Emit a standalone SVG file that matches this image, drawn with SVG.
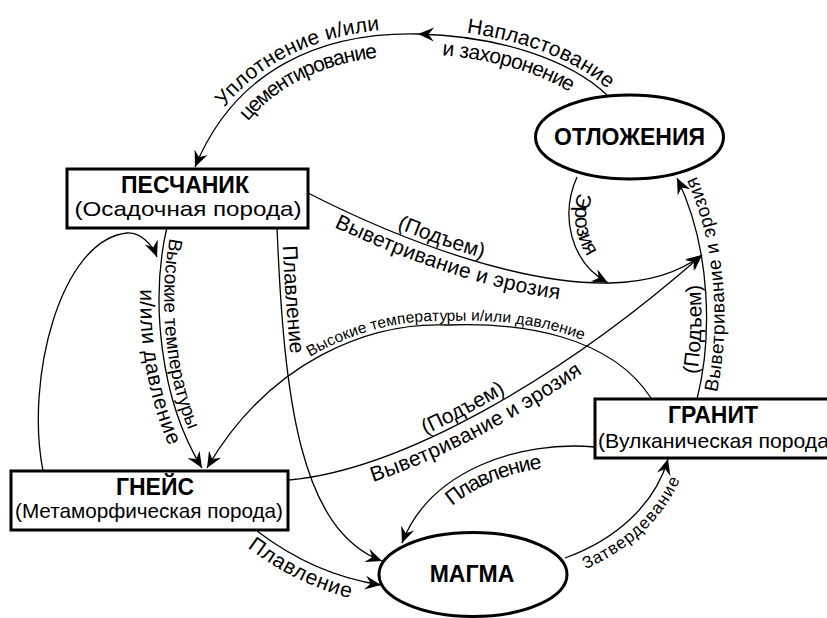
<svg xmlns="http://www.w3.org/2000/svg" width="827" height="618" viewBox="0 0 827 618">
<style>
.node rect, .node ellipse { fill:#fff; stroke:#000; stroke-width:3; }
.title { font-family:"Liberation Sans", Arial, sans-serif; font-weight:bold; font-size:23px; text-anchor:middle; fill:#000; }
.sub { font-family:"Liberation Sans", Arial, sans-serif; font-size:21px; text-anchor:middle; fill:#000; }
.conn path { fill:none; stroke:#000; stroke-width:1.3; }
.conn .arr { marker-end:url(#ah); }
.lbl { font-family:"Liberation Sans", Arial, sans-serif; font-size:21px; fill:#000; text-anchor:middle; }
.s19 { font-size:19px; }
.s17 { font-size:17px; }
.s15 { font-size:15.5px; }
</style>
<defs>
<marker id="ah" viewBox="-17 -8 18 16" refX="0" refY="0" markerWidth="18" markerHeight="16" markerUnits="userSpaceOnUse" orient="auto">
<path d="M0,0 L-16,-7 L-10.5,0 L-16,7 Z" fill="#000"/>
</marker>
<path id="tA" d="M418,34 C500,36 570,60 607,95"/>
<path id="tB" d="M195,167 C235,70 320,32 418,34"/>
<path id="tK" d="M402,543 C430,470 520,440 595,447"/>
<path id="tM" d="M207,468 C270,360 370,322 447,325 C520,322 610,335 651,398"/>
</defs>

<g id="connectors" class="conn">
<path id="cA" class="arr" d="M607,95 C570,60 500,36 418,34"/>
<path id="cB" class="arr" d="M418,34 C320,32 235,70 195,167"/>
<path id="cC" class="arr" d="M577,177 C560,215 570,262 608,283"/>
<path id="cD" class="arr" d="M308,193 C400,240 520,285 610,283 C650,282 680,272 702,255"/>
<path id="cE" class="arr" d="M289,480 C400,470 560,380 702,255"/>
<path id="cF" class="arr" d="M697,399 C712,340 712,250 677,178"/>
<path id="cG" class="arr" d="M167,227 C150,300 160,400 202,468"/>
<path id="cH" class="arr" d="M43,471 C25,380 60,240 127,233 C140,232 152,244 157,257"/>
<path id="cI" class="arr" d="M277,227 C284,400 300,530 382,561"/>
<path id="cJ" class="arr" d="M257,531 C295,560 335,578 381,585"/>
<path id="cK" class="arr" d="M595,447 C520,440 430,470 402,543"/>
<path id="cL" class="arr" d="M565,558 C615,540 655,505 668,459"/>
<path id="cM" class="arr" d="M651,398 C610,335 520,322 447,325 C370,322 270,360 207,468"/>
</g>

<g id="labels">
<text class="lbl" dy="-5"><textPath href="#tA" startOffset="61%">Напластование</textPath></text>
<text class="lbl" dy="20"><textPath href="#tA" startOffset="48%">и захоронение</textPath></text>
<text class="lbl" dy="-5"><textPath href="#tB" startOffset="55%">Уплотнение и/или</textPath></text>
<text class="lbl" dy="22"><textPath href="#tB" startOffset="55%">цементирование</textPath></text>
<text class="lbl" dy="-6"><textPath href="#cC" startOffset="42%">Эрозия</textPath></text>
<text class="lbl" dy="-5"><textPath href="#cD" startOffset="34%">(Подъем)</textPath></text>
<text class="lbl" dy="19"><textPath href="#cD" startOffset="37%">Выветривание и эрозия</textPath></text>
<text class="lbl" dy="-5"><textPath href="#cE" startOffset="40%">(Подъем)</textPath></text>
<text class="lbl" dy="20"><textPath href="#cE" startOffset="41%">Выветривание и эрозия</textPath></text>
<text class="lbl" dy="-5"><textPath href="#cF" startOffset="31%">(Подъем)</textPath></text>
<text class="lbl s19" dy="18"><textPath href="#cF" startOffset="51%">Выветривание и эрозия</textPath></text>
<text class="lbl s19" dy="-5"><textPath href="#cG" startOffset="44%">Высокие температуры</textPath></text>
<text class="lbl" dy="19"><textPath href="#cG" startOffset="56%">и/или давление</textPath></text>
<text class="lbl" dy="-5"><textPath href="#cI" startOffset="20%">Плавление</textPath></text>
<text class="lbl" dy="19"><textPath href="#cJ" startOffset="41%">Плавление</textPath></text>
<text class="lbl" dy="20"><textPath href="#tK" startOffset="52%">Плавление</textPath></text>
<text class="lbl s17" dy="18"><textPath href="#cL" startOffset="50%">Затвердевание</textPath></text>
<text class="lbl s15" dy="-4"><textPath href="#tM" startOffset="56%">Высокие температуры и/или давление</textPath></text>
</g>

<g id="otlozheniya" class="node">
<ellipse cx="629.5" cy="137" rx="94" ry="42"/>
<text class="title" x="629.5" y="145">ОТЛОЖЕНИЯ</text>
</g>
<g id="peschanik" class="node">
<rect x="67" y="169" width="241" height="59"/>
<text class="title" x="185" y="193">ПЕСЧАНИК</text>
<text class="sub" x="188" y="216" textLength="227" lengthAdjust="spacingAndGlyphs">(Осадочная порода)</text>
</g>
<g id="gneis" class="node">
<rect x="11" y="471" width="277" height="59"/>
<text class="title" x="155" y="495">ГНЕЙС</text>
<text class="sub" x="149" y="518" textLength="268" lengthAdjust="spacingAndGlyphs">(Метаморфическая порода)</text>
</g>
<g id="granit" class="node">
<rect x="595" y="399" width="240" height="59"/>
<text class="title" x="713" y="423">ГРАНИТ</text>
<text class="sub" x="598" y="448" style="text-anchor:start" textLength="238" lengthAdjust="spacingAndGlyphs">(Вулканическая порода)</text>
</g>
<g id="magma" class="node">
<ellipse cx="473" cy="574.5" rx="94" ry="42"/>
<text class="title" x="472" y="582">МАГМА</text>
</g>
</svg>
